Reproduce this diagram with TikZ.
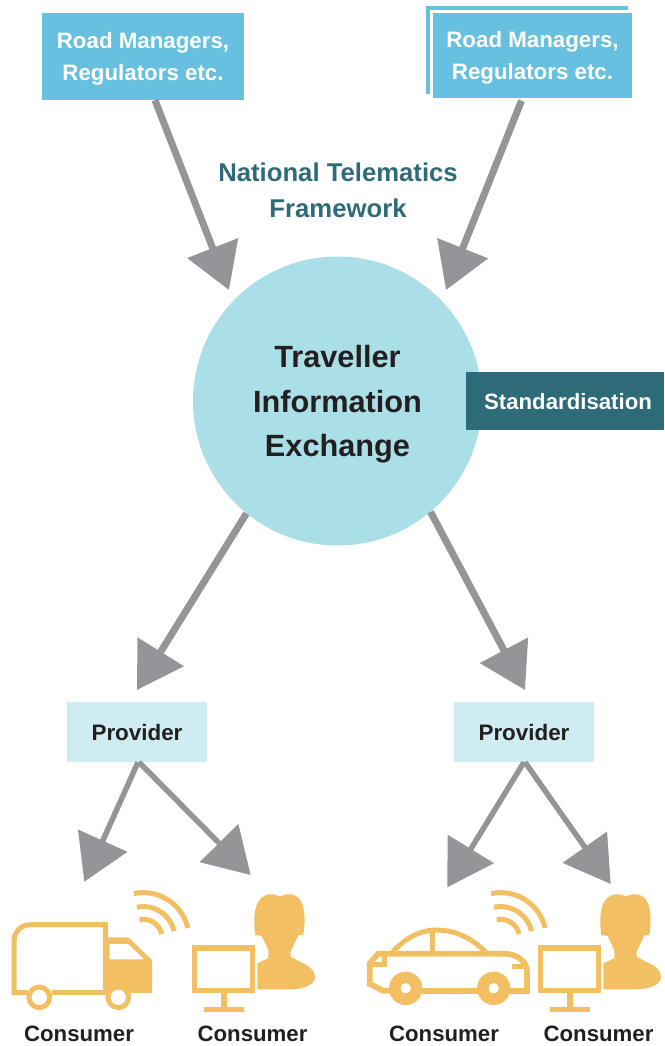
\documentclass[tikz,border=0pt]{standalone}
\usepackage{fontspec}
\setmainfont{Liberation Sans}
\usetikzlibrary{arrows.meta}

\definecolor{arrowgray}{HTML}{939598}
\definecolor{roadblue}{HTML}{68C0E0}
\definecolor{hubcyan}{HTML}{ABDFE7}
\definecolor{paleblue}{HTML}{CFECF3}
\definecolor{tealdark}{HTML}{2E6B78}
\definecolor{iconorange}{HTML}{F2C063}
\definecolor{inkdark}{HTML}{231F20}

\tikzset{
    flow/.style={draw=arrowgray, line width=7pt, -{Triangle[length=45pt,width=53pt]}},
    flowsmall/.style={flow, line width=5.5pt},
    roadbox/.style={fill=roadblue, text=white, font=\fontsize{22.3}{32}\selectfont\bfseries, align=center, inner sep=0pt, minimum width=202pt, minimum height=87pt, text depth=-2pt},
    providerbox/.style={fill=paleblue, text=inkdark, font=\fontsize{22.4}{26}\selectfont\bfseries, inner sep=0pt, minimum width=140pt, minimum height=60pt, text depth=-3pt},
    consumerlabel/.style={text=inkdark, font=\fontsize{22.2}{26}\selectfont\bfseries, inner sep=0pt},
    iconline/.style={draw=iconorange, line width=5pt},
}

% Funkwellen, #1 = Mittelpunkt
\newcommand{\wifisign}[1]{
    \foreach \rad in {19,31.7,45.7} {
        \draw[iconline] (#1) ++(102:\rad pt) arc[start angle=102, end angle=13, radius=\rad pt];
    }
}
% Bildschirm und Person
\newcommand{\deskuser}{
    \fill[iconorange] (255.3,935) .. controls (253,918) and (254,900) .. (265,895.5)
        .. controls (270,893.5) and (276,894) .. (280,896.5) .. controls (284,894) and (290,893.5) .. (295,895.5)
        .. controls (305,900) and (306,918) .. (303.3,935) -- (298.3,935.3)
        -- (290.7,951.7) -- (290.7,956.7) -- (300,961.7)
        .. controls (311,966) and (315,972) .. (315,977) .. controls (315,985) and (303,989.3) .. (290,989.3)
        -- (257.3,989.3) -- (257.3,963.3) -- (268.3,958.3) -- (268.3,950) -- (261.7,936) -- cycle;
    \draw[iconline, line width=5.3pt] (194.7,948) rectangle (252.3,990.7);
    \draw[iconline, line width=5.3pt] (224,993) -- (224,1009);
    \draw[iconline, line width=5.3pt] (203.7,1009.7) -- (244,1009.7);
}

\begin{document}
\begin{tikzpicture}[x=1pt,y=-1pt]
    \useasboundingbox (0,0) rectangle (664,1046);

    % Kopfzeile
    \node[roadbox] (roadA) at (143,56.5) {Road Managers,\\Regulators etc.};
    \node[fill=roadblue, inner sep=0pt, minimum width=202pt, minimum height=88pt] (roadback) at (527,50) {};
    \node[roadbox, draw=white, line width=3pt, minimum height=87.7pt] (roadB) at (532.5,55.35) {Road Managers,\\Regulators etc.};
    \node[text=tealdark, font=\fontsize{25.7}{36}\selectfont\bfseries, align=center, inner sep=0pt] (framework) at (338,190) {National Telematics\\Framework};

    % Mitte
    \node[circle, fill=hubcyan, text=inkdark, font=\fontsize{30.7}{44.5}\selectfont\bfseries, align=center, inner sep=0pt, minimum size=289pt, text depth=-1pt] (exchange) at (337.5,401) {Traveller\\Information\\Exchange};
    \node[fill=tealdark, text=white, font=\fontsize{22.2}{26}\selectfont\bfseries, inner sep=0pt, minimum width=198pt, minimum height=58pt, text depth=-3pt] (standard) at (565,401) {\hspace*{6pt}Standardisation};

    % Provider
    \node[providerbox] (provA) at (137,732) {Provider};
    \node[providerbox] (provB) at (524,732) {Provider};

    % Pfeilspitzen
    \coordinate (tipA) at (229,290);
    \coordinate (tipB) at (446,290);
    \coordinate (tipC) at (137,690);
    \coordinate (tipD) at (525,690);
    \coordinate (tipE) at (84.3,881.7);
    \coordinate (tipF) at (250.7,875);
    \coordinate (tipG) at (447.3,887.3);
    \coordinate (tipH) at (610.7,884);

    % Pfeile
    \draw[flow] ([xshift=12pt]roadA.south) -- (tipA);
    \draw[flow] ([xshift=-11pt]roadB.south) -- (tipB);
    \draw[flow] (exchange.231) -- (tipC);
    \draw[flow] (exchange.-50) -- (tipD);
    \draw[flowsmall] ([xshift=1pt]provA.south) -- (tipE);
    \draw[flowsmall] ([xshift=2pt]provA.south) -- (tipF);
    \draw[flowsmall] (provB.south) -- (tipG);
    \draw[flowsmall] ([xshift=1pt]provB.south) -- (tipH);

    % LKW
    \draw[iconline] (105.3,992.7) -- (105.3,924.7) -- (30,924.7) arc[start angle=90, end angle=180, radius=16pt] -- (14,992.7) -- (28,992.7);
    \draw[iconline] (52,992.7) -- (107,992.7);
    \fill[iconorange] (105.3,937.3) -- (128.3,937.3) -- (152,960) -- (152,993) -- (128,993) -- (105.3,993) -- cycle;
    \fill[white] (109.7,944) -- (128,944) -- (144,959.3) -- (109.7,959.3) -- cycle;
    \draw[iconline, fill=white] (39.3,997.3) circle[radius=10.3pt];
    \draw[iconline, fill=white] (118.3,997.3) circle[radius=10.3pt];
    \wifisign{143.3,938.3}

    \deskuser
    \begin{scope}[shift={(346,0)}]
        \deskuser
    \end{scope}

    % Auto
    \draw[iconline] (391.7,953) .. controls (405,938) and (420,930) .. (436.7,930) .. controls (455,930) and (472,938) .. (486.7,953);
    \draw[iconline] (432,931) -- (432,953);
    \draw[iconline, line width=5.7pt] (390,990.7) -- (383,990.7) -- (369.7,984) -- (369.7,963.3) -- (378.3,953.7) -- (503.3,953.7) .. controls (518,953.7) and (527,962) .. (527,972) -- (527,991) -- (510,991);
    \draw[iconline, line width=5.7pt] (422,991) -- (478,991);
    \draw[iconline] (370,964.7) -- (384.7,964.7) -- (384.7,955);
    \draw[iconline] (512,966) -- (527,966);
    \fill[iconorange, even odd rule] (405.7,988.3) circle[radius=16.7pt] (405.7,988.3) circle[radius=5.3pt];
    \fill[iconorange, even odd rule] (493.7,988.3) circle[radius=16.7pt] (493.7,988.3) circle[radius=5.3pt];
    \wifisign{500.6,938.3}

    % Beschriftung
    \node[consumerlabel] (consA) at (79,1034) {Consumer};
    \node[consumerlabel] (consB) at (252.5,1034) {Consumer};
    \node[consumerlabel] (consC) at (444,1034) {Consumer};
    \node[consumerlabel] (consD) at (598.5,1034) {Consumer};
\end{tikzpicture}
\end{document}
